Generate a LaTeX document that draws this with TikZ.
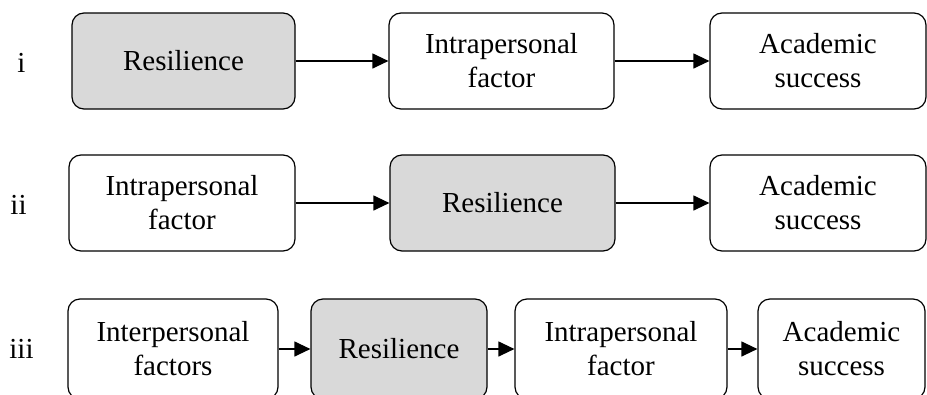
\documentclass[tikz,border=0pt]{standalone}
\usepackage{fontspec}
\setmainfont{Liberation Serif}
\usetikzlibrary{arrows.meta}
\definecolor{boxgray}{HTML}{D9D9D9}
\tikzset{
  stage/.style={draw=black, line width=1.2pt, rounded corners=12pt,
    minimum height=96pt, inner sep=0pt, align=center,
    font=\fontsize{29}{34}\selectfont},
  keystage/.style={stage, fill=boxgray},
  rowlabel/.style={anchor=base, inner sep=0pt, font=\fontsize{29}{34}\selectfont},
  link/.style={line width=1.2pt, -{Triangle[length=16pt,width=15pt]}}
}
\begin{document}
\begin{tikzpicture}[x=1pt,y=-1pt]
\useasboundingbox (0,0) rectangle (927,394);

% model i
\node[rowlabel] (li) at (21.5,72) {i};
\node[keystage, minimum width=223pt] (r1) at (183.5,61) {Resilience};
\node[stage, minimum width=225pt] (p1) at (501.5,61) {Intrapersonal\\factor};
\node[stage, minimum width=216pt] (a1) at (818,61) {Academic\\success};
\draw[link] (r1) -- (p1);
\draw[link] (p1) -- (a1);

% model ii
\node[rowlabel] (lii) at (18.5,214) {ii};
\node[stage, minimum width=226pt] (p2) at (182,203) {Intrapersonal\\factor};
\node[keystage, minimum width=225pt] (r2) at (502.5,203) {Resilience};
\node[stage, minimum width=216pt] (a2) at (818,203) {Academic\\success};
\draw[link] (p2) -- (r2);
\draw[link] (r2) -- (a2);

% model iii (its boxes run past the lower edge)
\tikzset{lowrow/.style={minimum height=100pt}}
\node[rowlabel] (liii) at (21.5,358) {iii};
\node[stage, lowrow, minimum width=210pt] (q3) at (173,349) {Interpersonal\\factors};
\node[keystage, lowrow, minimum width=176pt] (r3) at (399,349) {Resilience};
\node[stage, lowrow, minimum width=212pt] (p3) at (621,349) {Intrapersonal\\factor};
\node[stage, lowrow, minimum width=167pt] (a3) at (841.5,349) {Academic\\success};
\draw[link] (q3) -- (r3);
\draw[link] (r3) -- (p3);
\draw[link] (p3) -- (a3);
\end{tikzpicture}
\end{document}
